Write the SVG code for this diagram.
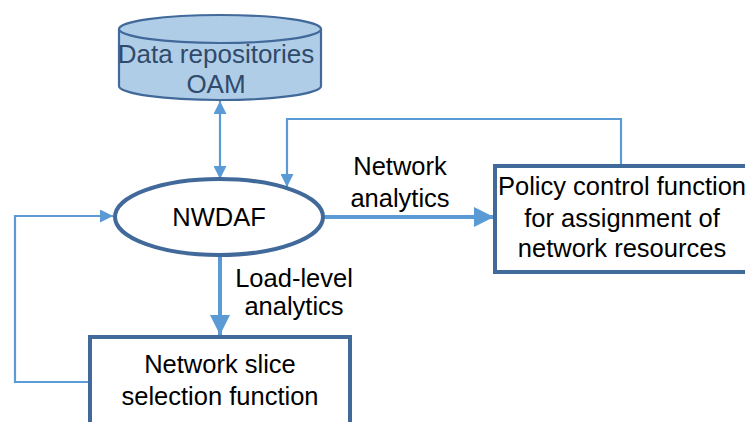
<svg xmlns="http://www.w3.org/2000/svg" width="745" height="422" viewBox="0 0 745 422">
<defs>
<style>
.t{font-family:"Liberation Sans",Arial,sans-serif;font-size:25.5px;fill:#000;text-anchor:middle}
.box{fill:#fff;stroke:#41699a;stroke-width:4}
.thin{fill:none;stroke:#5b9bd5;stroke-width:2.2}
.thick{fill:none;stroke:#5b9bd5;stroke-width:4}
</style>
<marker id="ahs" viewBox="0 0 10 10" refX="10" refY="5" markerWidth="14" markerHeight="13" markerUnits="userSpaceOnUse" orient="auto-start-reverse"><path d="M0,0 L10,5 L0,10 z" fill="#5b9bd5"/></marker>
<marker id="ahb" viewBox="0 0 10 10" refX="10" refY="5" markerWidth="20" markerHeight="22" markerUnits="userSpaceOnUse" orient="auto"><path d="M0,0 L10,5 L0,10 z" fill="#5b9bd5"/></marker>
</defs>
<g id="connectors">
<line class="thin" x1="220" y1="101" x2="220" y2="179" marker-start="url(#ahs)" marker-end="url(#ahs)"/>
<polyline class="thin" points="621,166 621,119 287,119 287,187" marker-end="url(#ahs)"/>
<polyline class="thin" points="90,382 15,382 15,216 113,216" marker-end="url(#ahs)"/>
<line class="thick" x1="323" y1="217" x2="494" y2="217" marker-end="url(#ahb)"/>
<line class="thick" x1="220" y1="256" x2="220" y2="335" marker-end="url(#ahb)"/>
</g>
<g id="data-repositories">
<path d="M119,29 L119,86 A101,14 0 0 0 321,86 L321,29" fill="#b0cde8" stroke="#41699a" stroke-width="2.2"/>
<ellipse cx="220" cy="29" rx="101" ry="14" fill="#b0cde8" stroke="#41699a" stroke-width="2.2"/>
<text class="t" x="216" y="63" style="font-size:26px;fill:#2f4a6a">Data repositories</text>
<text class="t" x="216" y="93" style="font-size:26px;fill:#2f4a6a">OAM</text>
</g>
<g id="nwdaf">
<ellipse cx="219" cy="217" rx="104" ry="38" fill="#fff" stroke="#41699a" stroke-width="4"/>
<text class="t" x="219" y="226">NWDAF</text>
</g>
<g id="policy-control">
<rect class="box" x="495" y="166" width="254" height="106"/>
<text class="t" x="622" y="195">Policy control function</text>
<text class="t" x="622" y="227">for assignment of</text>
<text class="t" x="622" y="257">network resources</text>
</g>
<g id="network-slice-selection">
<rect class="box" x="90" y="337" width="260" height="100"/>
<text class="t" x="220" y="373">Network slice</text>
<text class="t" x="220" y="405">selection function</text>
</g>
<g id="labels">
<text class="t" x="400" y="175">Network</text>
<text class="t" x="400" y="207">analytics</text>
<text class="t" x="294" y="287">Load-level</text>
<text class="t" x="294" y="315">analytics</text>
</g>
</svg>
